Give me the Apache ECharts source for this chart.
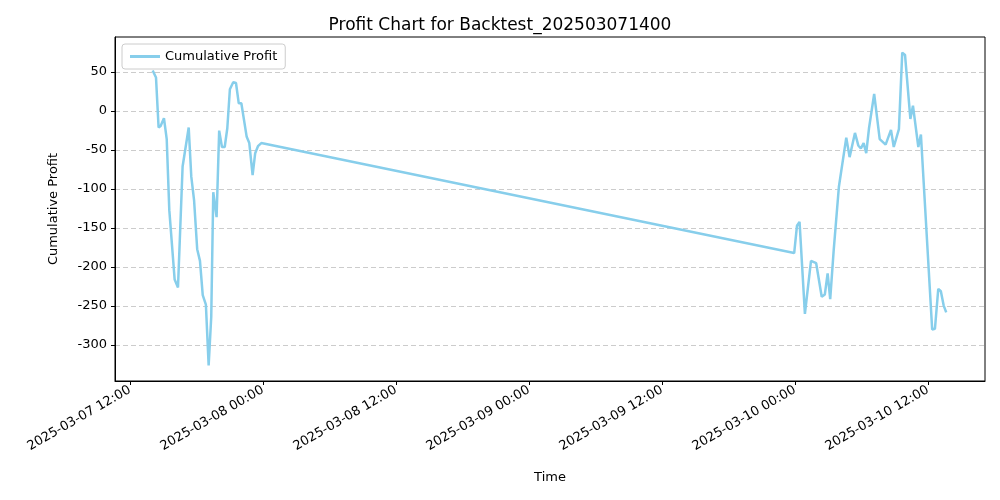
<!DOCTYPE html>
<html><head><meta charset="utf-8">
<script src="https://cdn.jsdelivr.net/npm/echarts@6/dist/echarts.min.js"></script>
<style>html,body{margin:0;padding:0;background:#fff}#c{width:1000px;height:500px}</style>
</head><body><div id="c"></div>
<script>
const times = [
 "2025-03-07 14:03","2025-03-07 14:21","2025-03-07 14:35","2025-03-07 14:46","2025-03-07 15:04","2025-03-07 15:19",
 "2025-03-07 15:33","2025-03-07 16:02","2025-03-07 16:20","2025-03-07 16:45","2025-03-07 17:18","2025-03-07 17:32",
 "2025-03-07 17:47","2025-03-07 18:04","2025-03-07 18:19","2025-03-07 18:34","2025-03-07 18:51","2025-03-07 19:06",
 "2025-03-07 19:20","2025-03-07 19:31","2025-03-07 19:49","2025-03-07 20:03","2025-03-07 20:18","2025-03-07 20:33",
 "2025-03-07 20:47","2025-03-07 21:01","2025-03-07 21:19","2025-03-07 21:34","2025-03-07 21:49","2025-03-07 22:03",
 "2025-03-07 22:32","2025-03-07 22:46","2025-03-07 23:04","2025-03-07 23:18","2025-03-07 23:33","2025-03-07 23:51",
 "2025-03-09 23:56","2025-03-10 00:11","2025-03-10 00:25","2025-03-10 00:54","2025-03-10 01:27","2025-03-10 01:55",
 "2025-03-10 02:25","2025-03-10 02:42","2025-03-10 02:57","2025-03-10 03:11","2025-03-10 03:30","2025-03-10 03:58",
 "2025-03-10 04:38","2025-03-10 04:56","2025-03-10 05:25","2025-03-10 05:43","2025-03-10 05:57","2025-03-10 06:12",
 "2025-03-10 06:26","2025-03-10 06:41","2025-03-10 07:09","2025-03-10 07:39","2025-03-10 08:11","2025-03-10 08:40",
 "2025-03-10 08:55","2025-03-10 09:23","2025-03-10 09:41","2025-03-10 09:56","2025-03-10 10:25","2025-03-10 10:39",
 "2025-03-10 11:08","2025-03-10 11:22","2025-03-10 12:23","2025-03-10 12:38","2025-03-10 12:56","2025-03-10 13:10",
 "2025-03-10 13:25","2025-03-10 13:39"];
const profit = [
 52,43,-21,-19,-9,-36,-127,-216,-226,-71,-21,-84,
 -114,-177,-192,-236,-248,-326,-264,-104,-136,-25,-46,-46,
 -22,28,37,36,10,10,-33,-41,-82,-54,-45,-41,
 -182,-147,-142,-260,-192,-195,-238,-235,-208,-241,-178,-97,
 -34,-59,-28,-44,-48,-41,-54,-22,22,-36,-43,-24,
 -46,-23,75,72,-10,7,-46,-30,-280,-279,-228,-231,
 -249,-258];
const xTicks = ["2025-03-07 12:00","2025-03-08 00:00","2025-03-08 12:00","2025-03-09 00:00","2025-03-09 12:00","2025-03-10 00:00","2025-03-10 12:00"];
const yTicks = [-300,-250,-200,-150,-100,-50,0,50];

function ts(s){const [d,t]=s.split(' ');const [Y,M,D]=d.split('-').map(Number);const [h,m]=t.split(':').map(Number);return Date.UTC(Y,M-1,D,h,m);}
function p(n){return String(n).padStart(2,'0');}
function fmt(v){const d=new Date(v);return d.getUTCFullYear()+'-'+p(d.getUTCMonth()+1)+'-'+p(d.getUTCDate())+' '+p(d.getUTCHours())+':'+p(d.getUTCMinutes());}
const H=3600000;
const xmin = ts("2025-03-07 12:00") - 1.35*H;
const xmax = ts("2025-03-07 12:00") + 77.15*H;
const data = times.map((t,i)=>[ts(t),profit[i]]);
const F='DejaVu Sans';
const chart = echarts.init(document.getElementById('c'));
chart.setOption({
 animation:false,
 textStyle:{fontFamily:F},
 title:{text:'Profit Chart for Backtest_202503071400',left:'center',top:12,textStyle:{fontFamily:F,fontSize:17,fontWeight:'normal',color:'#000'}},
 legend:{left:122,top:44,itemWidth:30,itemHeight:3,borderColor:'#ccc',borderWidth:1,borderRadius:3,padding:[6,8],
   textStyle:{fontFamily:F,fontSize:13,color:'#000'},data:[{name:'Cumulative Profit',icon:'rect'}]},
 grid:{left:115,right:15,top:37,bottom:119},
 xAxis:{type:'value',min:xmin,max:xmax,name:'Time',nameLocation:'middle',nameGap:90,
   nameTextStyle:{fontFamily:F,fontSize:13,color:'#000'},
   axisLine:{onZero:false,lineStyle:{color:'#000'}},splitLine:{show:false},
   axisTick:{customValues:xTicks.map(ts),length:4,lineStyle:{color:'#000'}},
   axisLabel:{customValues:xTicks.map(ts),rotate:30,formatter:fmt,fontFamily:F,fontSize:13,color:'#000',margin:8}},
 yAxis:{type:'value',min:-346,max:95,name:'Cumulative Profit',nameLocation:'middle',nameGap:55,
   nameTextStyle:{fontFamily:F,fontSize:13,color:'#000'},
   axisLine:{show:true,onZero:false,lineStyle:{color:'#000'}},
   axisTick:{show:true,customValues:yTicks,length:4,lineStyle:{color:'#000'}},
   axisLabel:{customValues:yTicks,fontFamily:F,fontSize:13,color:'#000'},
   splitLine:{show:true,customValues:yTicks,lineStyle:{type:[5,3],color:'#ccc'}}},
 series:[{name:'Cumulative Profit',type:'line',data:data,symbol:'none',lineStyle:{color:'#87CEEB',width:2.5},itemStyle:{color:'#87CEEB'}}],
 graphic:[{type:'rect',shape:{x:115,y:37,width:870,height:344},style:{fill:'none',stroke:'#000',lineWidth:1},silent:true,z:10}]
});
</script></body></html>
